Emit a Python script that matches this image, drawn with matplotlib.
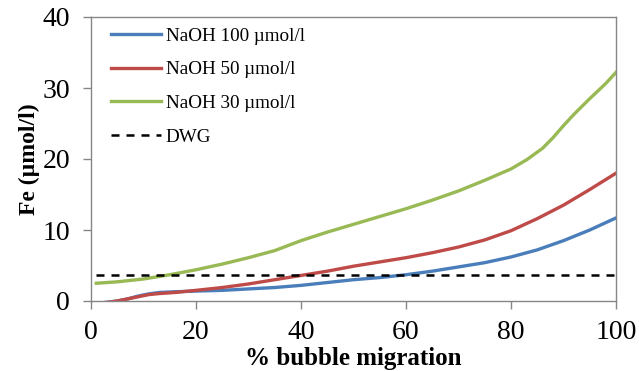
import matplotlib
matplotlib.use("Agg")
import matplotlib.pyplot as plt

# % bubble migration (x) and Fe concentration (µmol/l) for each NaOH dose
x_100 = [1, 3, 5, 7, 9, 11, 13, 16, 20, 25, 30, 35, 40, 45, 50, 55, 60, 65, 70, 75, 80, 85, 90, 95, 100]
fe_100 = [-0.3, -0.2, 0.0, 0.3, 0.7, 1.0, 1.2, 1.3, 1.4, 1.5, 1.7, 1.9, 2.2, 2.6, 3.0, 3.3, 3.7, 4.2, 4.8, 5.4, 6.2, 7.2, 8.5, 10.0, 11.7]

x_50 = [1, 3, 5, 7, 9, 11, 13, 16, 20, 25, 30, 35, 40, 45, 50, 55, 60, 65, 70, 75, 80, 85, 90, 95, 100]
fe_50 = [-0.3, -0.2, 0.0, 0.3, 0.6, 0.9, 1.05, 1.2, 1.5, 1.9, 2.4, 3.0, 3.6, 4.2, 4.9, 5.5, 6.1, 6.8, 7.6, 8.6, 9.9, 11.6, 13.5, 15.7, 18.0]

x_30 = [1, 5, 10, 15, 20, 25, 30, 35, 40, 45, 50, 55, 60, 65, 70, 75, 80, 83, 86, 88, 90, 92, 95, 98, 100]
fe_30 = [2.5, 2.7, 3.1, 3.7, 4.4, 5.2, 6.1, 7.1, 8.5, 9.7, 10.8, 11.9, 13.0, 14.2, 15.5, 17.0, 18.6, 19.9, 21.5, 23.0, 24.7, 26.3, 28.5, 30.6, 32.2]

dwg_x = [1, 100]
dwg_level = 3.7

x_ticks = [0, 20, 40, 60, 80, 100]
y_ticks = [0, 10, 20, 30, 40]

plt.rcParams["font.family"] = ["Liberation Serif", "DejaVu Serif"]

fig = plt.figure(figsize=(6.39, 3.71), dpi=100)
ax = fig.add_axes([91 / 639, 1 - 301 / 371, (616 - 91) / 639, (301 - 17) / 371])

ax.plot(x_100, fe_100, color="#4a7ebb", lw=2.4, label="NaOH 100 µmol/l")
ax.plot(x_50, fe_50, color="#be4b48", lw=2.4, label="NaOH 50 µmol/l")
ax.plot(x_30, fe_30, color="#98b954", lw=2.4, label="NaOH 30 µmol/l")
ax.plot(dwg_x, [dwg_level, dwg_level], color="black", lw=1.8, ls=(0, (3.2, 2.8)), label="DWG")

ax.set_xlim(0, 100)
ax.set_ylim(0, 40)
ax.set_xticks(x_ticks)
ax.set_yticks(y_ticks)
ax.tick_params(axis="both", labelsize=20, color="#868686", length=6, width=1, direction="out")
ax.tick_params(axis="x", pad=8)
ax.tick_params(axis="y", pad=9)
for s in ax.spines.values():
    s.set_color("#868686")
    s.set_linewidth(1)

ax.set_xlabel("% bubble migration", fontsize=18, fontweight="bold", labelpad=1)
ax.set_ylabel("Fe (µmol/l)", fontsize=17, fontweight="bold", labelpad=2)

leg = ax.legend(loc="upper left", bbox_to_anchor=(0.0, 1.035), fontsize=13.8, frameon=False,
                handlelength=2.6, handletextpad=0.25, labelspacing=0.85, borderpad=0.55)

fig.savefig("out.png", dpi=100)
